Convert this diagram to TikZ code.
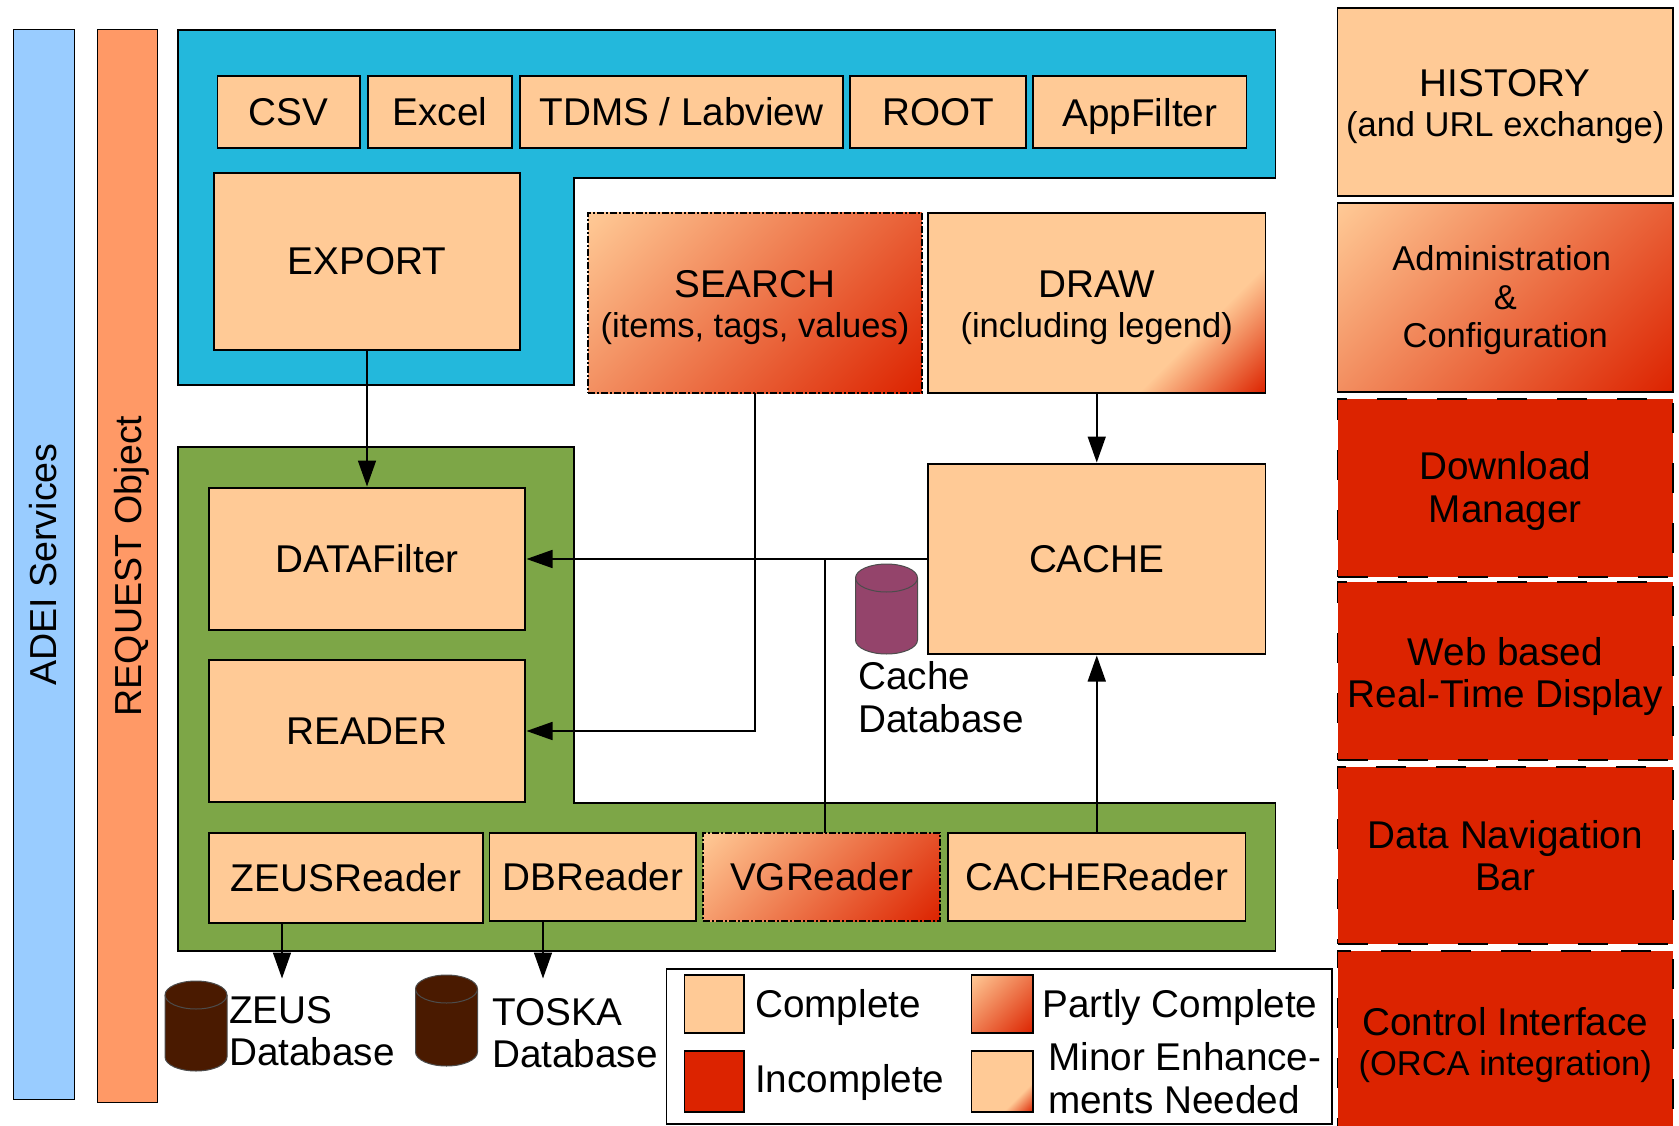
\documentclass[tikz,border=0pt]{standalone}
\usepackage{fontspec}
\setmainfont{Liberation Sans}
\usetikzlibrary{arrows.meta,calc}
\definecolor{peach}{HTML}{FFCA96}
\definecolor{incred}{HTML}{DC2300}
\definecolor{panelblue}{HTML}{23B8DC}
\definecolor{panelgreen}{HTML}{7DA647}
\definecolor{stripblue}{HTML}{99CCFF}
\definecolor{striporange}{HTML}{FF9966}
\definecolor{dbbrown}{HTML}{4A1A00}
\definecolor{dbpurple}{HTML}{94446B}
\pgfdeclarehorizontalshading{partlyshade}{100bp}{color(0bp)=(peach);color(32.3bp)=(peach);color(67.7bp)=(incred);color(100bp)=(incred)}
\pgfdeclarehorizontalshading{minorshade}{100bp}{color(0bp)=(peach);color(59bp)=(peach);color(67.7bp)=(incred);color(100bp)=(incred)}
\newcommand{\mybox}[7][]{%
  \pgfmathsetmacro{\bxw}{#5-#3}%
  \pgfmathsetmacro{\bxh}{#6-#4}%
  \node[basebox,#1,minimum width=\bxw pt,minimum height=\bxh pt] (#2) at ({(#3+#5)/2},{(#4+#6)/2}) {#7};%
}
\newcommand{\subl}[1]{{\fontsize{34.5}{38}\selectfont #1}}
\newcommand{\upad}[1]{\rule{0pt}{#1pt}}
% cylinder: x centre, top, bottom, colour
\newcommand{\dbcyl}[4]{%
  \draw[dbline,fill=#4] (#1-31,#2+14) arc[start angle=180,end angle=360,x radius=31,y radius=14]
    -- (#1+31,#3-14) arc[start angle=0,end angle=180,x radius=31,y radius=14] -- cycle;
  \draw[dbline] (#1-31,#2+14) arc[start angle=180,end angle=0,x radius=31,y radius=14];
}
\tikzset{
  lbl/.style={font=\fontsize{38.7}{42.5}\selectfont,inner sep=0pt},
  basebox/.style={lbl,draw=black,line width=1.5pt,align=center,outer sep=0pt},
  complete/.style={fill=peach},
  incomplete/.style={fill=incred,dash pattern=on 30pt off 30pt},
  partly/.style={path picture={\pgfmathsetmacro{\sqs}{\bxw+\bxh}\shade[shading=partlyshade,shading angle=-45] ($(path picture bounding box.center)+(-\sqs/2,-\sqs/2)$) rectangle +(\sqs,\sqs);}},
  partlydash/.style={partly,dash pattern=on 7pt off 2pt on 2pt off 2pt},
  minor/.style={path picture={\pgfmathsetmacro{\sqs}{\bxw+\bxh}\shade[shading=minorshade,shading angle=-45] ($(path picture bounding box.center)+(-\sqs/2,-\sqs/2)$) rectangle +(\sqs,\sqs);}},
  panel/.style={draw=black,line width=1.5pt},
  strip/.style={font=\fontsize{37.6}{42}\selectfont,inner sep=0pt,draw=black,line width=1pt,rotate=90,outer sep=0pt},
  dbline/.style={draw=black!70,line width=1pt},
  conn/.style={draw=black,line width=1.6pt},
  arr/.style={conn,-{Triangle[length=26pt,width=18pt]},shorten >=1.5pt},
  txt/.style={lbl,align=left}
}
\begin{document}
\begin{tikzpicture}[x=1pt,y=-1pt]
\useasboundingbox (0,0) rectangle (1679,1126);
\clip (0,0) rectangle (1679,1126);
% side strips
\node[strip,fill=stripblue,minimum width=1069pt,minimum height=61pt] (adei) at (43.5,564.5) {ADEI Services};
\node[strip,fill=striporange,minimum width=1072pt,minimum height=60pt,text depth=0pt] (request) at (127.5,566) {REQUEST Object};
% panels
\draw[panel,fill=panelblue] (178,30) -- (1275.5,30) -- (1275.5,178) -- (574,178) -- (574,385) -- (178,385) -- cycle;
\draw[panel,fill=panelgreen] (178,447) -- (574,447) -- (574,803) -- (1275.5,803) -- (1275.5,951) -- (178,951) -- cycle;
% export group
\mybox[complete]{csv}{217.5}{76}{360}{148}{CSV}
\mybox[complete]{excel}{368}{76}{512}{148}{Excel}
\mybox[complete]{tdms}{520}{76}{843}{148}{TDMS / Labview}
\mybox[complete]{root}{850}{76}{1026}{148}{ROOT}
\mybox[complete,text depth=0pt]{appfilter}{1033}{76}{1246.5}{148}{AppFilter}
\mybox[complete]{export}{214}{173}{520}{350}{EXPORT}
\mybox[partlydash]{search}{588}{213}{922}{393}{\upad{36.6}SEARCH\\[-3pt]\subl{(items, tags, values)}}
\mybox[minor]{draw}{928}{213}{1265.5}{393}{\upad{36.6}DRAW\\[-3pt]\subl{(including legend)}}
% reader group
\mybox[complete]{datafilter}{209}{488}{525}{630}{DATAFilter}
\mybox[complete]{reader}{209}{660}{525}{802}{READER}
\mybox[complete]{zeusreader}{209}{833}{483}{923}{ZEUSReader}
\mybox[complete]{dbreader}{489.5}{833}{696}{921}{DBReader}
\mybox[partlydash]{vgreader}{703}{833}{940}{921}{VGReader}
\mybox[complete]{cachereader}{948}{833}{1245.5}{921}{CACHEReader}
\mybox[complete]{cache}{928}{464}{1265.5}{654}{CACHE}
% right column
\mybox[complete]{history}{1337.5}{8}{1673}{196}{\upad{36.6}HISTORY\\[-3pt]\subl{(and URL exchange)}}
\mybox[partly]{admin}{1337.5}{203}{1673}{392}{\subl{\upad{31}Administration\hspace*{7pt}}\\[-4pt]\subl{\&}\\[-4pt]\subl{Configuration}}
\mybox[incomplete]{download}{1337.5}{399}{1673}{577}{\upad{34}Download\\Manager}
\mybox[incomplete]{web}{1337.5}{582}{1673}{760}{\upad{39}Web based\\Real-Time Display}
\mybox[incomplete]{nav}{1337.5}{767}{1673}{944}{Data Navigation\\Bar}
\mybox[incomplete]{control}{1337.5}{951}{1673}{1133}{\upad{34.5}Control Interface\\[-3pt]\subl{(ORCA integration)}}
% databases
\dbcyl{886.5}{564}{654}{dbpurple}
\dbcyl{196}{981}{1071}{dbbrown}
\dbcyl{446.5}{975}{1066}{dbbrown}
\node[txt,anchor=west] (cachelbl) at (858,697) {Cache\\Database};
\node[txt,anchor=west] (zeuslbl) at (229,1031) {ZEUS\\Database};
\node[txt,anchor=west] (toskalbl) at (492,1033) {TOSKA\\Database};
% legend
\mybox[fill=white,line width=1.2pt]{legend}{666.5}{969}{1332}{1124}{}
\mybox[complete]{swcomplete}{684.5}{975}{744}{1033}{}
\mybox[fill=incred]{swincomplete}{684.5}{1051}{744}{1112}{}
\mybox[partly]{swpartly}{971.5}{975}{1033}{1033}{}
\mybox[minor]{swminor}{971.5}{1051}{1033}{1112}{}
\node[txt,anchor=west,text depth=0pt] (tcomplete) at (755,1003.5) {Complete};
\node[txt,anchor=west] (tincomplete) at (755,1082) {Incomplete};
\node[txt,anchor=west,text depth=0pt] (tpartly) at (1042,1003.5) {Partly Complete};
\node[txt,anchor=west] (tminor) at (1048,1078) {Minor Enhance-\\ments Needed};
% connectors
\coordinate (zeusin) at (282,980);
\coordinate (toskain) at (543,980);
\draw[arr] (export.south) -- (datafilter.north);
\draw[arr] (search.south) |- (reader.east);
\draw[arr] (draw.south) -- (cache.north);
\draw[arr] (cache.west) -- (datafilter.east);
\draw[conn] ($(vgreader.north)+(3.3,0)$) -- ($(vgreader.north |- cache.west)+(3.3,0)$);
\draw[arr] (cachereader.north) -- (cache.south);
\draw[arr] (zeusin |- zeusreader.south) -- (zeusin);
\draw[arr] (toskain |- dbreader.south) -- (toskain);
\end{tikzpicture}
\end{document}
